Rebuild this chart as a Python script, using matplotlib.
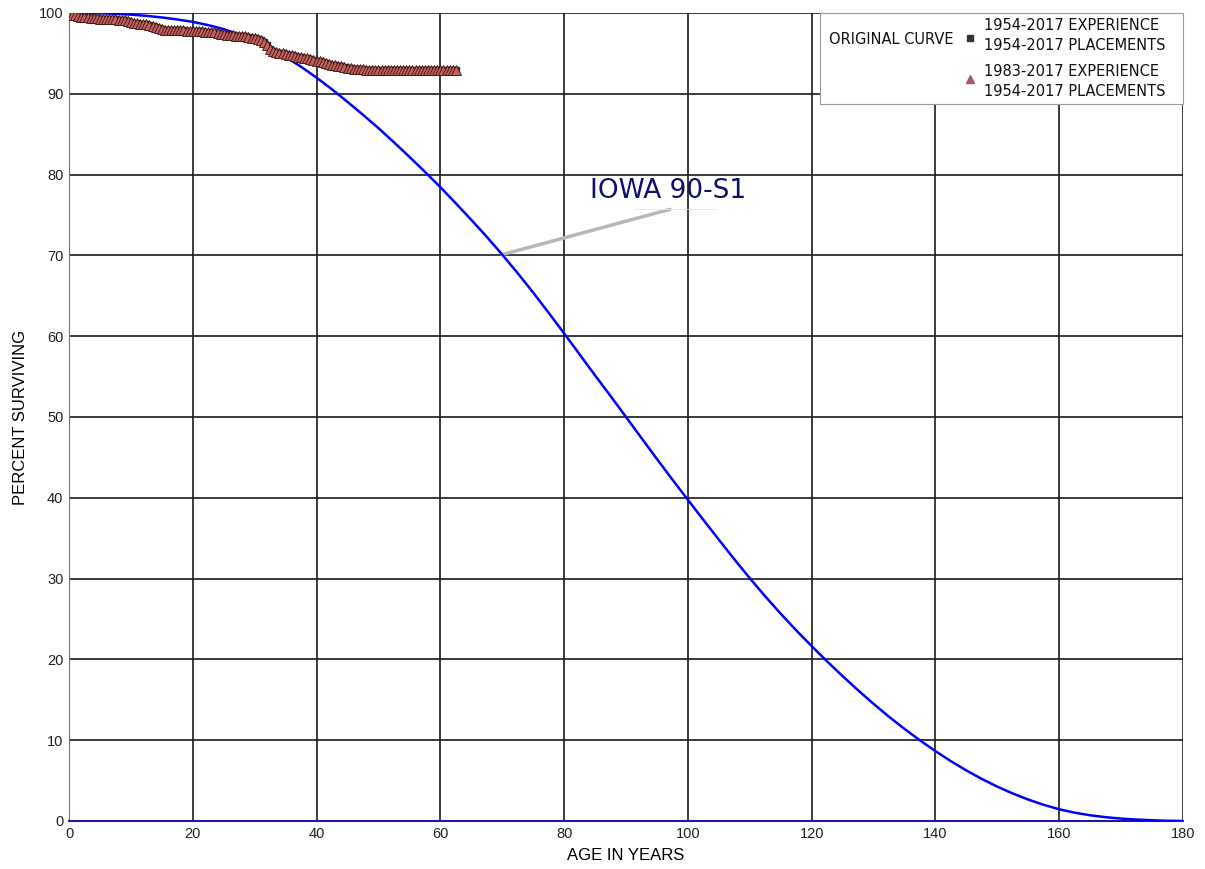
import numpy as np
import matplotlib
matplotlib.use("Agg")
import matplotlib.pyplot as plt
from matplotlib.patches import Rectangle
from matplotlib.lines import Line2D

# Iowa 90-S1 curve, read every 2.5 years
iowa_age = [i * 2.5 for i in range(73)]
iowa_pct = [
    100.0, 99.99, 99.96, 99.9, 99.8, 99.65, 99.45, 99.2, 98.9, 98.5,
    98.0, 97.35, 96.6, 95.65, 94.55, 93.35, 92.0, 90.55, 89.0, 87.4,
    85.75, 84.0, 82.2, 80.35, 78.45, 76.45, 74.4, 72.3, 70.1, 67.8,
    65.4, 62.9, 60.35, 57.75, 55.15, 52.6, 50.0, 47.4, 44.8, 42.25,
    39.75, 37.27, 34.82, 32.4, 30.05, 27.8, 25.65, 23.6, 21.65, 19.75,
    17.93, 16.18, 14.5, 12.9, 11.4, 9.98, 8.65, 7.4, 6.25, 5.2,
    4.25, 3.4, 2.65, 2.0, 1.45, 1.03, 0.71, 0.47, 0.3, 0.18,
    0.09, 0.03, 0.0,
]

# original curve (both bands coincide), half-year ages 0 .. 62.5
obs_age = [i * 0.5 for i in range(126)]
obs_pct = [
    100.0, 99.8, 99.7, 99.6, 99.5, 99.5, 99.5, 99.4, 99.4, 99.4,
    99.3, 99.3, 99.3, 99.2, 99.2, 99.2, 99.1, 99.1, 99.1, 99.0,
    98.9, 98.8, 98.8, 98.7, 98.6, 98.6, 98.5, 98.4, 98.3, 98.2,
    98.0, 97.95, 97.9, 97.9, 97.9, 97.85, 97.85, 97.85, 97.8, 97.8,
    97.8, 97.8, 97.75, 97.75, 97.7, 97.7, 97.65, 97.6, 97.5, 97.4,
    97.35, 97.3, 97.3, 97.25, 97.2, 97.2, 97.15, 97.1, 97.0, 96.95,
    96.9, 96.8, 96.7, 96.4, 96.0, 95.6, 95.3, 95.2, 95.1, 95.0,
    94.9, 94.8, 94.8, 94.7, 94.6, 94.5, 94.4, 94.4, 94.3, 94.2,
    94.1, 94.0, 93.9, 93.8, 93.7, 93.6, 93.6, 93.5, 93.4, 93.3,
    93.2, 93.2, 93.1, 93.1, 93.1, 93.1, 93.0, 93.0, 93.0, 92.9,
    92.9, 92.9, 92.9, 92.9, 92.9, 92.9, 92.9, 92.9, 92.9, 92.9,
    92.9, 92.9, 92.9, 92.9, 92.9, 92.9, 92.9, 92.9, 92.9, 92.9,
    92.9, 92.9, 92.9, 92.9, 92.9, 92.9,
]

W, H = 1205, 869
fig = plt.figure(figsize=(W / 100, H / 100), dpi=100)
ax = fig.add_axes([69 / W, 1 - 821 / H, (1183 - 69) / W, (821 - 13) / H])

ax.set_xlim(0, 180)
ax.set_ylim(0, 100)
ax.set_xticks(np.arange(0, 181, 20))
ax.set_yticks(np.arange(0, 101, 10))
ax.grid(True, color="#1a1a1a", lw=1.2)
ax.set_axisbelow(True)
ax.tick_params(length=0, labelsize=10.5, pad=4)
for lab in ax.get_xticklabels() + ax.get_yticklabels():
    lab.set_fontfamily("Liberation Sans")
    lab.set_color("#222222")
for side in ["top", "right"]:
    ax.spines[side].set_visible(False)
ax.spines["left"].set_color("#777777")
ax.spines["bottom"].set_color("#1c1c9a")
ax.spines["bottom"].set_linewidth(1.5)

ax.plot(iowa_age, iowa_pct, color="#0000ff", lw=1.8, solid_joinstyle="round", zorder=3)

ax.plot(obs_age, obs_pct, ls="none", marker="s", ms=5, color="#333333", zorder=4)
ax.plot(obs_age, obs_pct, ls="none", marker="^", ms=7, markerfacecolor="#c2605a",
        markeredgecolor="#3a1515", mew=0.6, zorder=5)

# label with leader line
ax.plot([70, 97.1], [70.1, 75.7], color="#b8b8b8", lw=2.5, solid_capstyle="round", zorder=2)
ax.plot([91.5, 104.5], [75.7, 75.7], color="#e4e4e4", lw=0.6, zorder=2)
ax.text(96.8, 76.3, "IOWA 90-S1", ha="center", va="bottom", fontsize=19,
        color="#10106e", family="DejaVu Sans", zorder=6)

ax.set_xlabel("AGE IN YEARS", fontsize=12, family="Liberation Sans", labelpad=5)
ax.set_ylabel("PERCENT SURVIVING", fontsize=12, family="Liberation Sans", labelpad=8)


def fx(px):
    return px / W


def fy(py):
    return 1 - py / H


# legend box drawn by hand
fig.patches.append(Rectangle((fx(820), fy(104)), fx(1183) - fx(820), fy(13) - fy(104),
                             transform=fig.transFigure, facecolor="white",
                             edgecolor="#999999", lw=0.8, zorder=10))
leg_kw = dict(fontsize=10.5, family="DejaVu Sans", color="#111111", zorder=11)
fig.text(fx(829), fy(39), "ORIGINAL CURVE", ha="left", va="center", **leg_kw)
fig.text(fx(984), fy(26), "1954-2017 EXPERIENCE", ha="left", va="center", **leg_kw)
fig.text(fx(984), fy(46), "1954-2017 PLACEMENTS", ha="left", va="center", **leg_kw)
fig.text(fx(984), fy(71), "1983-2017 EXPERIENCE", ha="left", va="center", **leg_kw)
fig.text(fx(984), fy(91), "1954-2017 PLACEMENTS", ha="left", va="center", **leg_kw)
fig.lines.append(Line2D([fx(970)], [fy(38)], transform=fig.transFigure, marker="s", ms=5,
                        color="#333333", ls="none", zorder=11))
fig.lines.append(Line2D([fx(970)], [fy(79)], transform=fig.transFigure, marker="^", ms=6,
                        color="#a85868", ls="none", zorder=11))

fig.savefig("out.png", dpi=100)
